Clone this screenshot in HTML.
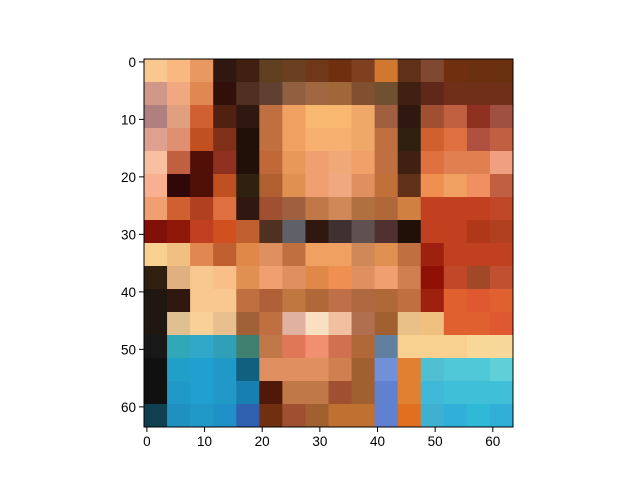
<!DOCTYPE html>
<html><head><meta charset="utf-8"><style>
body{margin:0;background:#fff;width:640px;height:480px;overflow:hidden;font-family:"Liberation Sans",sans-serif}
</style></head><body>
<svg id="chart" width="640" height="480" xmlns="http://www.w3.org/2000/svg">
<rect width="640" height="480" fill="#fff"/>
<g id="img"></g>
<g id="axes"></g>
</svg>
<script>
const rows = [
"f8c890 f9b880 e89860 301810 402010 604020 6a4020 703818 703010 804020 d07830 603018 804830 703010 6a3010 6a3010",
"d09888 f0a880 e08850 301008 503020 604030 906040 a06840 a06838 805030 705030 402010 602818 703018 703018 703018",
"b08080 e0a080 d06030 502010 301810 c07040 f0a060 f8b870 f8b870 f0a868 a06040 301810 a05030 c06040 903020 a05040",
"e0a090 e09070 c05020 803018 201008 c07040 f0a060 f8b070 f8b070 f0a868 c07040 302010 d06030 e07040 b05040 c06040",
"f8c0a0 c06040 501008 903020 201008 c06838 e89858 f0a070 f0a878 f0a068 c07040 402010 e07040 e08050 e08050 f0a080",
"f8b090 300808 501008 c05020 302010 b06030 e09050 f0a070 f0a880 e09060 c07038 603018 f09050 f0a060 f09060 c06040",
"f0a070 d06030 b04020 e07040 301810 a05030 a06040 c07848 d08858 b07040 b06838 d08040 c04020 c04020 c04020 c04828",
"801008 901808 c04020 d05020 c06030 503020 606068 301810 403030 605050 503030 201008 c04020 c04020 b03818 b04020",
"f8d090 f0c080 e08850 c06030 e08848 e09060 c07040 f0a060 f0a060 d08858 e09050 c07040 a02010 c04020 c04020 c04020",
"302010 e0b080 f8c890 f8c088 e09050 f0a070 e09060 e08848 f09050 e09060 f0a070 d08050 901008 c04828 a04828 c05030",
"201810 301810 f8c890 f8c890 c07040 b06038 c07840 b06838 c07048 b06840 b06838 c07040 a02010 e06030 e05830 e06030",
"201810 e0c090 f8d098 e8c090 a06038 c07040 e0b0a0 f8e0c0 f0c0a0 b07050 a06030 e8c088 f0c080 e06030 e06030 e05830",
"181818 30a8b8 30a8c8 30a0b8 408070 c07848 e07858 f09070 d07050 b06838 6080a0 f8d090 f8d090 f8d090 f8d898 f8d898",
"101010 20a0c8 20a0d0 2098c8 106080 e09060 e09060 e09060 d08050 a06030 7090d8 e08030 50c0d0 50c8d8 50c8d8 60d0d8",
"101010 2098c8 20a0d0 2098c8 1880b0 501808 c07848 c07848 a05030 a06030 6080d0 e08030 40b8d8 40c0d8 40c0d8 40c0d8",
"104050 2090c0 2098c8 2090c8 3060b0 703010 a05030 a06030 c07030 c07030 6080d0 e07020 40b0d0 30b0d8 30b8d8 30b0d8"
];
const xTicks = [0,10,20,30,40,50,60];
const yTicks = [0,10,20,30,40,50,60];
const NS="http://www.w3.org/2000/svg";
const L=144, T=59, W=369, H=368, N=64;
const px = v => L + (v+0.5)*W/N;   // pixel-center x
const py = v => T + (v+0.5)*H/N;
const img=document.getElementById('img');
const n=rows.length, cw=W/n, ch=H/n;
rows.forEach((r,ri)=>{
  r.split(' ').forEach((c,ci)=>{
    const e=document.createElementNS(NS,'rect');
    e.setAttribute('x',L+ci*cw); e.setAttribute('y',T+ri*ch);
    e.setAttribute('width',cw+0.5); e.setAttribute('height',ch+0.5);
    e.setAttribute('fill','#'+c);
    
    
    img.appendChild(e);
  });
});
const ax=document.getElementById('axes');
function mk(tag,attrs,txt){const e=document.createElementNS(NS,tag);for(const k in attrs)e.setAttribute(k,attrs[k]);if(txt!==undefined)e.textContent=txt;ax.appendChild(e);return e;}
const fr=mk('rect',{x:L,y:T,width:W,height:H,fill:'none',stroke:'#000','stroke-width':1});


xTicks.forEach(t=>{
  const x=px(t);
  const l=mk('line',{x1:x,x2:x,y1:T+H,y2:T+H+5,stroke:'#000','stroke-width':1});
  
  
  const s=mk('text',{x:x,y:T+H+19,'text-anchor':'middle','font-size':'13.5px',fill:'#000'},String(t));
  
  
});
yTicks.forEach(t=>{
  const y=py(t);
  const l=mk('line',{x1:L-5,x2:L,y1:y,y2:y,stroke:'#000','stroke-width':1});
  
  
  const s=mk('text',{x:L-8,y:y+5,'text-anchor':'end','font-size':'13.5px',fill:'#000'},String(t));
  
  
});
</script>
</body></html>
